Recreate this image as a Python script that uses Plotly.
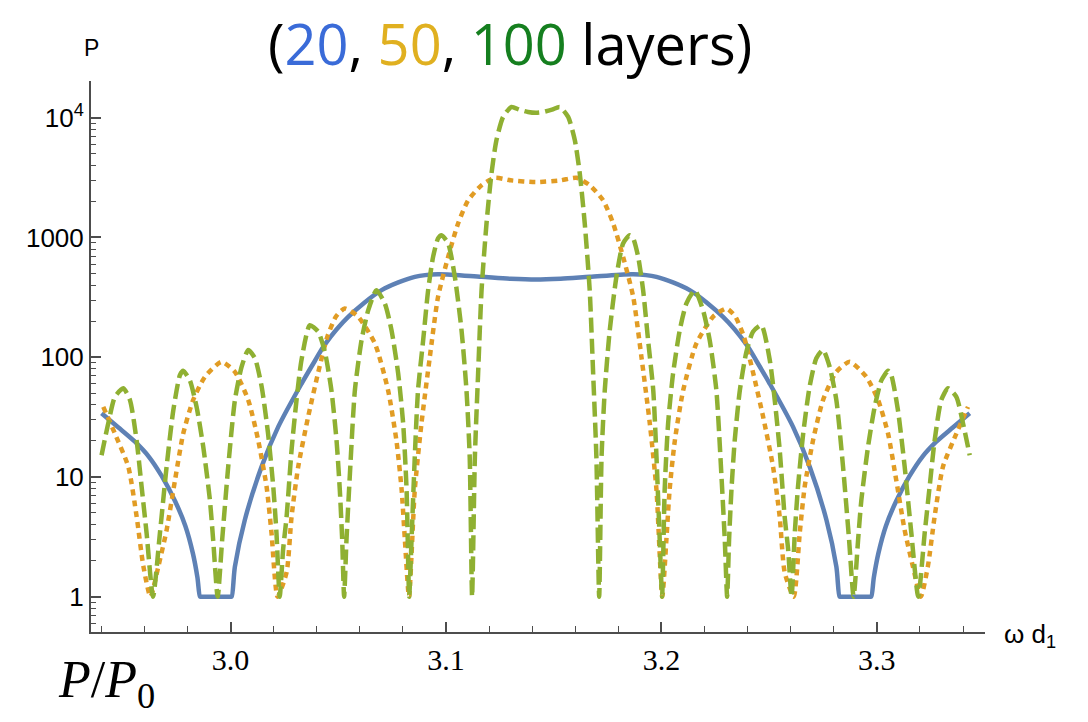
import plotly.graph_objects as go

# ---- data (x = omega*d1, y = P/P0) ----
x20 = [2.9401, 2.9478, 2.9556, 2.9620, 2.9680, 2.9742, 2.9790, 2.9825, 2.9846, 2.9858,
       2.9863, 3.0000, 3.0005, 3.0020, 3.0066, 3.0144, 3.0221, 3.0329, 3.0391, 3.0438,
       3.0546, 3.0701, 3.0855, 3.0963, 3.1165, 3.1300, 3.1417, 3.1532, 3.1667, 3.1869,
       3.1977, 3.2131, 3.2286, 3.2394, 3.2441, 3.2503, 3.2611, 3.2688, 3.2766, 3.2812,
       3.2827, 3.2832, 3.2969, 3.2974, 3.2986, 3.3007, 3.3042, 3.3090, 3.3152, 3.3212,
       3.3276, 3.3354, 3.3431]
p20 = [34, 26, 19.7, 14.8, 10.2, 6.3, 3.9, 2.3, 1.45, 1.0,
       1.0, 1.0, 1.0, 1.78, 4.37, 12.2, 26.2, 60, 93, 128,
       217, 363, 469, 494, 469, 452, 445, 452, 469, 494,
       469, 363, 217, 128, 93, 60, 26.2, 12.2, 4.37, 1.78,
       1.0, 1.0, 1.0, 1.0, 1.45, 2.3, 3.9, 6.3, 10.2, 14.8,
       19.7, 26, 34]

x50 = [2.9409, 2.9463, 2.9525, 2.9564, 2.9595, 2.9628, 2.9665, 2.9703, 2.9742, 2.9780,
       2.9826, 2.9881, 2.9958, 3.0020, 3.0082, 3.0128, 3.0167, 3.0190, 3.0218, 3.0260,
       3.0283, 3.0314, 3.0360, 3.0407, 3.0450, 3.0490, 3.0530, 3.0590, 3.0670, 3.0731,
       3.0770, 3.0794, 3.0809, 3.0828, 3.0855, 3.0886, 3.0925, 3.0963, 3.1010, 3.1056,
       3.1103, 3.1165, 3.1226, 3.1300, 3.1417, 3.1532, 3.1606, 3.1667, 3.1729, 3.1776,
       3.1822, 3.1869, 3.1907, 3.1946, 3.1977, 3.2004, 3.2023, 3.2038, 3.2062, 3.2101,
       3.2162, 3.2242, 3.2302, 3.2342, 3.2382, 3.2425, 3.2472, 3.2518, 3.2549, 3.2572,
       3.2614, 3.2642, 3.2665, 3.2704, 3.2750, 3.2812, 3.2874, 3.2951, 3.3006, 3.3052,
       3.3090, 3.3129, 3.3167, 3.3204, 3.3237, 3.3268, 3.3307, 3.3369, 3.3423]
p50 = [38.5, 23, 12.2, 4.65, 1.8, 1.0, 1.8, 3.6, 9.4, 23,
       43.8, 68.6, 91.5, 75.5, 43.8, 20.3, 8.3, 3.4, 1.0, 1.6,
       4.65, 12.2, 31.8, 75, 150, 220, 255, 220, 130, 53,
       20, 7.8, 3.0, 1.0, 7.8, 28, 101, 319, 689, 1309,
       2047, 2733, 3150, 3000, 2900, 3000, 3150, 2733, 2047, 1309,
       689, 319, 101, 28, 7.8, 1.0, 3.0, 7.8, 20, 53,
       130, 220, 255, 220, 150, 75, 31.8, 12.2, 4.65, 1.6,
       1.0, 3.4, 8.3, 20.3, 43.8, 75.5, 91.5, 68.6, 43.8, 23,
       9.4, 3.6, 1.8, 1.0, 1.8, 4.65, 12.2, 23, 38.5]

x100 = [2.9401, 2.9432, 2.9463, 2.9502, 2.9533, 2.9564, 2.9587, 2.9610, 2.9640, 2.9672,
        2.9703, 2.9734, 2.9765, 2.9780, 2.9811, 2.9842, 2.9873, 2.9904, 2.9919, 2.9940,
        2.9961, 2.9989, 3.0020, 3.0051, 3.0082, 3.0113, 3.0144, 3.0174, 3.0198, 3.0213,
        3.0228, 3.0244, 3.0260, 3.0283, 3.0306, 3.0329, 3.0368, 3.0407, 3.0438, 3.0468,
        3.0492, 3.0507, 3.0518, 3.0527, 3.0538, 3.0554, 3.0577, 3.0608, 3.0639, 3.0677,
        3.0716, 3.0747, 3.0778, 3.0801, 3.0817, 3.0829, 3.0840, 3.0855, 3.0870, 3.0894,
        3.0917, 3.0940, 3.0963, 3.0979, 3.1010, 3.1041, 3.1072, 3.1095, 3.1110, 3.1121,
        3.1134, 3.1149, 3.1165, 3.1188, 3.1211, 3.1234, 3.1265, 3.1304, 3.1340, 3.1381,
        3.1417,
        3.1451, 3.1492, 3.1528, 3.1567, 3.1598, 3.1621, 3.1644, 3.1667, 3.1683, 3.1698,
        3.1711, 3.1722, 3.1737, 3.1760, 3.1791, 3.1822, 3.1853, 3.1869, 3.1892, 3.1915,
        3.1938, 3.1962, 3.1977, 3.1992, 3.2003, 3.2015, 3.2031, 3.2054, 3.2085, 3.2116,
        3.2155, 3.2193, 3.2224, 3.2255, 3.2278, 3.2294, 3.2305, 3.2314, 3.2325, 3.2340,
        3.2364, 3.2394, 3.2425, 3.2464, 3.2503, 3.2526, 3.2549, 3.2572, 3.2588, 3.2604,
        3.2619, 3.2634, 3.2658, 3.2688, 3.2719, 3.2750, 3.2781, 3.2812, 3.2843, 3.2871,
        3.2892, 3.2913, 3.2928, 3.2959, 3.2990, 3.3021, 3.3052, 3.3067, 3.3098, 3.3129,
        3.3160, 3.3192, 3.3222, 3.3245, 3.3268, 3.3299, 3.3330, 3.3369, 3.3400, 3.3431]
p100 = [15.2, 28, 46.7, 55, 43.8, 20, 8.3, 3.4, 1.0, 3.4,
        12.2, 36, 71, 77, 64, 38.5, 17.9, 6.4, 3.0, 1.0,
        3.0, 12.2, 43.8, 83, 115, 98, 57, 23, 8.3, 3.4,
        1.0, 2.5, 4.65, 16.8, 43.8, 94.6, 185, 163, 110, 53,
        20, 7.8, 3.0, 1.0, 3.0, 10.7, 53, 139, 247, 363,
        281, 168, 73, 28, 7.8, 1.0, 3.0, 14.7, 53, 139,
        363, 689, 982, 1045, 891, 469, 168, 53, 14.7, 1.0,
        14.7, 73, 363, 1309, 3420, 6490, 10160, 12300, 11700, 11170,
        11000,
        11170, 11700, 12300, 10160, 6490, 3420, 1309, 363, 73, 14.7,
        1.0, 14.7, 53, 168, 469, 891, 1045, 982, 689, 363,
        139, 53, 14.7, 3.0, 1.0, 7.8, 28, 73, 168, 281,
        363, 247, 139, 53, 10.7, 3.0, 1.0, 3.0, 7.8, 20,
        53, 110, 163, 185, 94.6, 43.8, 16.8, 4.65, 2.5, 1.0,
        3.4, 8.3, 23, 57, 98, 115, 83, 43.8, 12.2, 3.0,
        1.0, 3.0, 6.4, 17.9, 38.5, 64, 77, 71, 36, 12.2,
        3.4, 1.0, 3.4, 8.3, 20, 43.8, 55, 46.7, 28, 15.2]

x_tickvals = [3.0, 3.1, 3.2, 3.3]
x_ticktext = ["3.0", "3.1", "3.2", "3.3"]
y_tickvals = [1, 10, 100, 1000, 10000]
y_ticktext = ["1", "10", "100", "1000", "10<sup>4</sup>"]

C_BLUE = "#5E81B5"
C_ORANGE = "#E19C24"
C_GREEN = "#8FB032"

fig = go.Figure()
fig.add_trace(go.Scatter(x=x20, y=p20, mode="lines", name="20",
                         line=dict(color=C_BLUE, width=4.5, shape="spline", smoothing=0.8)))
fig.add_trace(go.Scatter(x=x50, y=p50, mode="lines", name="50",
                         line=dict(color=C_ORANGE, width=4.5, dash="6px,5px", shape="spline", smoothing=0.6)))
fig.add_trace(go.Scatter(x=x100, y=p100, mode="lines", name="100",
                         line=dict(color=C_GREEN, width=4.5, dash="15px,6px", shape="spline", smoothing=0.6)))

axis_col = "#4d4d4d"
fig.update_layout(
    width=1088, height=722,
    margin=dict(l=91, r=103, t=81, b=90),
    paper_bgcolor="white", plot_bgcolor="white",
    showlegend=False,
    font=dict(family="Arial", size=24, color="black"),
    xaxis=dict(
        range=[2.9352, 3.3502], showgrid=False, zeroline=False,
        showline=True, linecolor=axis_col, linewidth=2,
        tickmode="array", tickvals=x_tickvals, ticktext=x_ticktext,
        ticks="inside", ticklen=10, tickwidth=1.5, tickcolor=axis_col,
        tickfont=dict(family="Liberation Sans Narrow", size=30, color="black"),
        minor=dict(ticks="inside", ticklen=6, tickwidth=1.2, tickcolor=axis_col, dtick=0.02, tick0=3.0, showgrid=False),
    ),
    yaxis=dict(
        type="log", range=[-0.295, 4.307], showgrid=False, zeroline=False,
        showline=True, linecolor=axis_col, linewidth=2,
        tickmode="array", tickvals=y_tickvals, ticktext=y_ticktext,
        ticks="inside", ticklen=10, tickwidth=1.5, tickcolor=axis_col,
        tickfont=dict(family="Arial", size=26, color="black"),
        minor=dict(ticks="inside", ticklen=5, tickwidth=1.2, tickcolor=axis_col, dtick="D1", showgrid=False),
    ),
)

title_html = ("(<span style='color:#3A6BD8'>20</span>, "
              "<span style='color:#E0B020'>50</span>, "
              "<span style='color:#157F1F'>100</span> layers)")
fig.add_annotation(text=title_html, xref="paper", yref="paper", x=0.4687, y=1.069,
                   xanchor="center", yanchor="middle", showarrow=False,
                   font=dict(family="Open Sans", size=56, color="black"))
fig.add_annotation(text="P", xref="paper", yref="paper", x=0.0011, y=1.06,
                   xanchor="center", yanchor="middle", showarrow=False,
                   font=dict(family="Arial", size=23, color="black"))
fig.add_annotation(text="ω d<sub>1</sub>", xref="paper", yref="paper", x=1.05, y=-0.007,
                   xanchor="center", yanchor="middle", showarrow=False,
                   font=dict(family="Arial", size=26, color="black"))
fig.add_annotation(text="<i>P</i>/<i>P</i><sub>0</sub>", xref="paper", yref="paper", x=0.0175, y=-0.0926,
                   xanchor="center", yanchor="middle", showarrow=False,
                   font=dict(family="Liberation Serif", size=52, color="black"))

fig.write_html("out.html")
